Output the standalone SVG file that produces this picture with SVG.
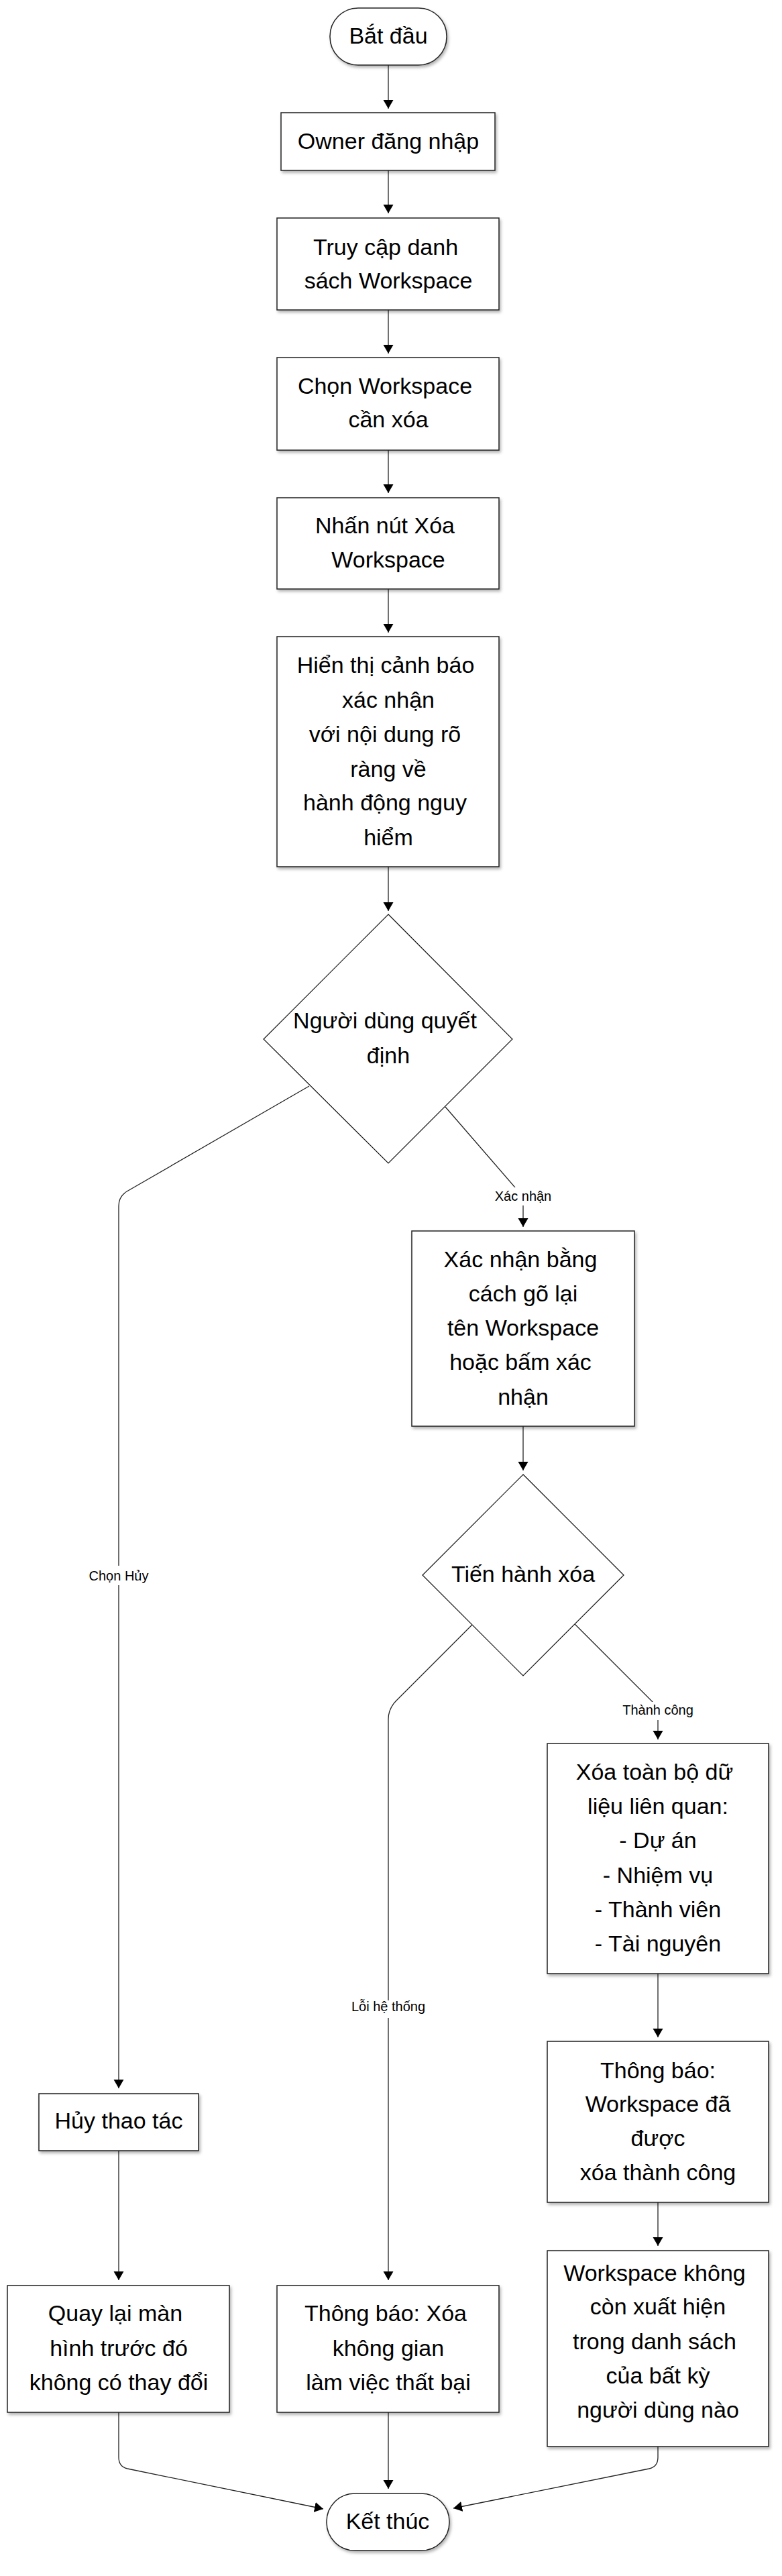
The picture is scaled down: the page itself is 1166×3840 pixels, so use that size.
<svg xmlns="http://www.w3.org/2000/svg" width="1166" height="3840" viewBox="0 0 1166 3840">
<defs>
<marker id="arr" markerUnits="userSpaceOnUse" markerWidth="16" markerHeight="16" viewBox="0 0 16 16" refX="13" refY="8" orient="auto">
<path d="M0,0.5 L13,8 L0,15.5 Z" fill="#000"/>
</marker>
<filter id="sh" x="-10%" y="-10%" width="130%" height="130%">
<feDropShadow dx="2" dy="3" stdDeviation="2" flood-color="#000" flood-opacity="0.3"/>
</filter>
<style>
.box{fill:#fff;stroke:#222;stroke-width:1.5;filter:url(#sh)}
.dia{fill:#fff;stroke:#111;stroke-width:1.2}
.t{font-family:"Liberation Sans",Arial,sans-serif;font-size:34px;fill:#000;text-anchor:middle}
.lb{font-family:"Liberation Sans",Arial,sans-serif;font-size:20px;fill:#000;text-anchor:middle}
.c{fill:none;stroke:#222;stroke-width:1.3;marker-end:url(#arr)}
.cn{fill:none;stroke:#222;stroke-width:1.3}
.bg{fill:#fff}
</style>
</defs>
<rect width="1166" height="3840" fill="#fff"/>

<g id="connectors">
<path class="c" d="M579,97 L579,162"/>
<path class="c" d="M579,254 L579,318"/>
<path class="c" d="M579,462 L579,527"/>
<path class="c" d="M579,671 L579,735"/>
<path class="c" d="M579,878 L579,943"/>
<path class="c" d="M579,1292 L579,1358"/>
<path class="c" d="M461,1619 L190,1775.5 Q177,1783 177,1798 L177,3113"/>
<path class="c" d="M664,1650 L780,1784 L780,1829"/>
<path class="c" d="M780,2126 L780,2192"/>
<path class="c" d="M857,2421 L981,2545 L981,2593"/>
<path class="c" d="M704,2422 L591,2535 Q579,2547 579,2563 L579,3399"/>
<path class="c" d="M981,2942 L981,3037"/>
<path class="c" d="M981,3283 L981,3348"/>
<path class="c" d="M177,3206 L177,3399"/>
<path class="c" d="M579,3596 L579,3710"/>
<path class="c" d="M177,3596 L177,3663 Q177,3677 190,3680 L482,3740"/>
<path class="c" d="M981,3647 L981,3663 Q981,3677 968,3680 L676,3739"/>
<rect class="bg" x="130" y="2334" width="94" height="29"/>
<text class="lb" x="177" y="2356">Chọn Hủy</text>
<rect class="bg" x="736" y="1770" width="88" height="27"/>
<text class="lb" x="780" y="1790">Xác nhận</text>
<rect class="bg" x="930" y="2537" width="102" height="27"/>
<text class="lb" x="981" y="2556">Thành công</text>
<rect class="bg" x="524" y="2982" width="110" height="26"/>
<text class="lb" x="579" y="2998">Lỗi hệ thống</text>
</g>

<g id="start">
<rect class="box" x="492" y="12" width="174" height="85" rx="42" ry="42"/>
<text class="t" x="579" y="65">Bắt đầu</text>
</g>
<g id="login">
<rect class="box" x="419" y="168" width="319" height="86"/>
<text class="t" x="579" y="222">Owner đăng nhập</text>
</g>
<g id="list">
<rect class="box" x="413" y="325" width="331" height="137"/>
<text class="t" x="575" y="380">Truy cập danh</text>
<text class="t" x="579" y="430">sách Workspace</text>
</g>
<g id="choose">
<rect class="box" x="413" y="533" width="331" height="138"/>
<text class="t" x="574" y="587">Chọn Workspace</text>
<text class="t" x="579" y="637">cần xóa</text>
</g>
<g id="press">
<rect class="box" x="413" y="742" width="331" height="136"/>
<text class="t" x="574" y="795">Nhấn nút Xóa</text>
<text class="t" x="579" y="846">Workspace</text>
</g>
<g id="warn">
<rect class="box" x="413" y="949" width="331" height="343"/>
<text class="t" x="575" y="1003">Hiển thị cảnh báo</text>
<text class="t" x="579" y="1055">xác nhận</text>
<text class="t" x="574" y="1106">với nội dung rõ</text>
<text class="t" x="579" y="1158">ràng về</text>
<text class="t" x="574" y="1208">hành động nguy</text>
<text class="t" x="579" y="1260">hiểm</text>
</g>
<g id="decide">
<polygon class="dia" points="579,1363 764,1549 579,1734 393,1549"/>
<text class="t" x="574" y="1533">Người dùng quyết</text>
<text class="t" x="579" y="1585">định</text>
</g>
<g id="confirm">
<rect class="box" x="614" y="1835" width="332" height="291"/>
<text class="t" x="776" y="1889">Xác nhận bằng</text>
<text class="t" x="780" y="1940">cách gõ lại</text>
<text class="t" x="780" y="1991">tên Workspace</text>
<text class="t" x="776" y="2042">hoặc bấm xác</text>
<text class="t" x="780" y="2094">nhận</text>
</g>
<g id="proceed">
<polygon class="dia" points="780,2198 930,2348 780,2498 630,2348"/>
<text class="t" x="780" y="2358">Tiến hành xóa</text>
</g>
<g id="delete">
<rect class="box" x="816" y="2599" width="330" height="343"/>
<text class="t" x="976" y="2653">Xóa toàn bộ dữ</text>
<text class="t" x="981" y="2704">liệu liên quan:</text>
<text class="t" x="981" y="2755">- Dự án</text>
<text class="t" x="981" y="2807">- Nhiệm vụ</text>
<text class="t" x="981" y="2858">- Thành viên</text>
<text class="t" x="981" y="2909">- Tài nguyên</text>
</g>
<g id="notifyOk">
<rect class="box" x="816" y="3043" width="330" height="240"/>
<text class="t" x="981" y="3098">Thông báo:</text>
<text class="t" x="981" y="3148">Workspace đã</text>
<text class="t" x="981" y="3199">được</text>
<text class="t" x="981" y="3250">xóa thành công</text>
</g>
<g id="gone">
<rect class="box" x="816" y="3355" width="330" height="292"/>
<text class="t" x="976" y="3400">Workspace không</text>
<text class="t" x="981" y="3450">còn xuất hiện</text>
<text class="t" x="976" y="3502">trong danh sách</text>
<text class="t" x="981" y="3553">của bất kỳ</text>
<text class="t" x="981" y="3604">người dùng nào</text>
</g>
<g id="cancel">
<rect class="box" x="58" y="3121" width="238" height="85"/>
<text class="t" x="177" y="3173">Hủy thao tác</text>
</g>
<g id="back">
<rect class="box" x="11" y="3407" width="331" height="189"/>
<text class="t" x="172" y="3460">Quay lại màn</text>
<text class="t" x="177" y="3512">hình trước đó</text>
<text class="t" x="177" y="3563">không có thay đổi</text>
</g>
<g id="notifyFail">
<rect class="box" x="413" y="3407" width="331" height="189"/>
<text class="t" x="575" y="3460">Thông báo: Xóa</text>
<text class="t" x="579" y="3512">không gian</text>
<text class="t" x="579" y="3563">làm việc thất bại</text>
</g>
<g id="end">
<rect class="box" x="487" y="3717" width="183" height="85" rx="42" ry="42"/>
<text class="t" x="578" y="3770">Kết thúc</text>
</g>
</svg>
